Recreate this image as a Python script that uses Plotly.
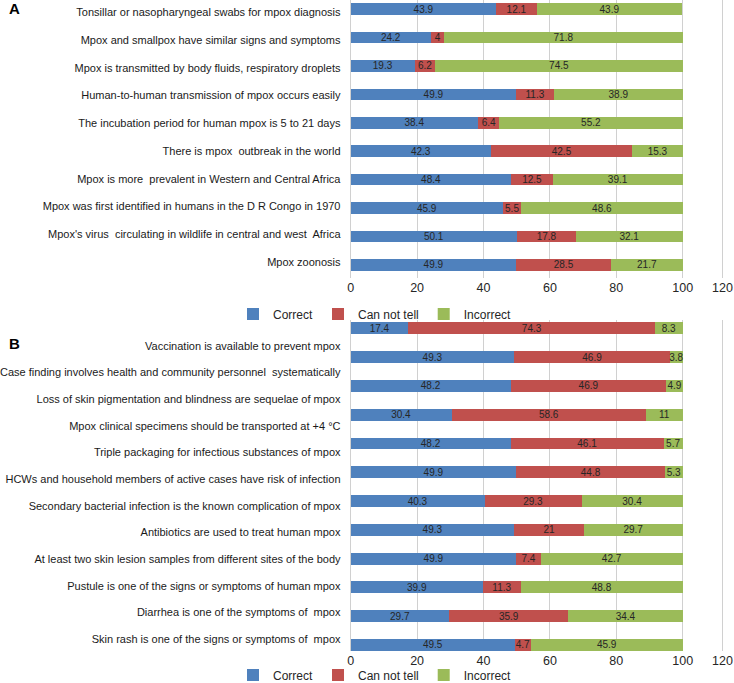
import plotly.graph_objects as go

# Panel A knowledge items (top to bottom)
items_a = [
    "Tonsillar or nasopharyngeal swabs for mpox diagnosis",
    "Mpox and smallpox have similar signs and symptoms",
    "Mpox is transmitted by body fluids, respiratory droplets",
    "Human-to-human transmission of mpox occurs easily",
    "The incubation period for human mpox is 5 to 21 days",
    "There is mpox  outbreak in the world",
    "Mpox is more  prevalent in Western and Central Africa",
    "Mpox was first identified in humans in the D R Congo in 1970",
    "Mpox's virus  circulating in wildlife in central and west  Africa",
    "Mpox zoonosis",
]
correct_a = [43.9, 24.2, 19.3, 49.9, 38.4, 42.3, 48.4, 45.9, 50.1, 49.9]
cannot_a = [12.1, 4, 6.2, 11.3, 6.4, 42.5, 12.5, 5.5, 17.8, 28.5]
incorrect_a = [43.9, 71.8, 74.5, 38.9, 55.2, 15.3, 39.1, 48.6, 32.1, 21.7]

# Panel B items (top to bottom)
items_b = [
    "Vaccination is available to prevent mpox",
    "Case finding involves health and community personnel  systematically",
    "Loss of skin pigmentation and blindness are sequelae of mpox",
    "Mpox clinical specimens should be transported at +4 °C",
    "Triple packaging for infectious substances of mpox",
    "HCWs and household members of active cases have risk of infection",
    "Secondary bacterial infection is the known complication of mpox",
    "Antibiotics are used to treat human mpox",
    "At least two skin lesion samples from different sites of the body",
    "Pustule is one of the signs or symptoms of human mpox",
    "Diarrhea is one of the symptoms of  mpox",
    "Skin rash is one of the signs or symptoms of  mpox",
]
correct_b = [17.4, 49.3, 48.2, 30.4, 48.2, 49.9, 40.3, 49.3, 49.9, 39.9, 29.7, 49.5]
cannot_b = [74.3, 46.9, 46.9, 58.6, 46.1, 44.8, 29.3, 21, 7.4, 11.3, 35.9, 4.7]
incorrect_b = [8.3, 3.8, 4.9, 11, 5.7, 5.3, 30.4, 29.7, 42.7, 48.8, 34.4, 45.9]

series_names = ["Correct", "Can not tell", "Incorrect"]
colors = ["#4F81BD", "#C0504D", "#9BBB59"]
x_tick_labels = ["0", "20", "40", "60", "80", "100", "120"]

LABEL_FONT = "Liberation Sans, Arial, sans-serif"
NUM_FONT = "Liberation Sans Narrow, Liberation Sans, Arial, sans-serif"

fig = go.Figure()

panels = [
    (items_a, [correct_a, cannot_a, incorrect_a], "x", "y", "legend"),
    (items_b, [correct_b, cannot_b, incorrect_b], "x2", "y2", "legend2"),
]
for items, series, xa, ya, lg in panels:
    pos = list(range(len(items)))
    for name, vals, col in zip(series_names, series, colors):
        fig.add_trace(go.Bar(
            y=pos, x=vals, name=name, orientation="h",
            marker=dict(color=col, line=dict(width=0)),
            width=0.41,
            text=vals, texttemplate="%{text}", textposition="inside",
            insidetextanchor="middle", constraintext="none", textangle=0,
            textfont=dict(family=NUM_FONT, size=10, color="#262626"),
            xaxis=xa, yaxis=ya, legend=lg,
            hoverinfo="skip",
        ))

# tick geometry: 100 sits at 683px, 0 at 350.7px, plot ends near 730px
x_right = 114.2
x_tickvals = [0, 20, 40, 60, 80, 100, 112]

# label rows in the source image are spaced a bit tighter than the bars
ticks_a = [0.116 + 0.975 * i for i in range(len(items_a))]
ticks_b = [0.604 + 0.927 * i for i in range(len(items_b))]

xaxis_common = dict(
    range=[0, x_right], tickvals=x_tickvals, ticktext=x_tick_labels,
    showgrid=True, gridcolor="#d0d0d0", gridwidth=1, zeroline=False,
    showline=False, ticks="", automargin=False, ticklabeloverflow="allow",
    tickfont=dict(family=NUM_FONT, size=12.5, color="#262626"),
    domain=[350.7 / 734, (350.7 + 3.32 * x_right) / 734],
)
yaxis_common = dict(
    showgrid=False, zeroline=False, showline=True, linecolor="#d0d0d0",
    ticks="", ticklabelstandoff=7, automargin=False,
    tickfont=dict(family=LABEL_FONT, size=11, color="#1a1a1a"),
)
legend_common = dict(
    orientation="h", x=375 / 734, xanchor="center", traceorder="normal",
    font=dict(family=NUM_FONT, size=12, color="#262626"),
    bgcolor="rgba(0,0,0,0)", itemwidth=30, tracegroupgap=0,
    yanchor="middle",
)

fig.update_layout(
    width=734, height=683,
    margin=dict(l=0, r=0, t=0, b=0, autoexpand=False),
    paper_bgcolor="white", plot_bgcolor="white",
    barmode="stack",
    xaxis=dict(**xaxis_common, anchor="y"),
    xaxis2=dict(**xaxis_common, anchor="y2"),
    yaxis=dict(**yaxis_common, anchor="x", range=[9.46, -0.32],
               tickvals=ticks_a, ticktext=items_a,
               domain=[1 - 278 / 683, 1.0]),
    yaxis2=dict(**yaxis_common, anchor="x2", range=[11.21, -0.29],
                tickvals=ticks_b, ticktext=items_b,
                domain=[1 - 651 / 683, 1 - 320 / 683]),
    legend=dict(**legend_common, y=1 - 314 / 683),
    legend2=dict(**legend_common, y=1 - 675 / 683),
    annotations=[
        dict(text="<b>A</b>", xref="paper", yref="paper", x=7 / 734, y=1 - 8 / 683,
             xanchor="left", yanchor="middle", showarrow=False,
             font=dict(family=LABEL_FONT, size=15, color="black")),
        dict(text="<b>B</b>", xref="paper", yref="paper", x=7 / 734, y=1 - 343 / 683,
             xanchor="left", yanchor="middle", showarrow=False,
             font=dict(family=LABEL_FONT, size=15, color="black")),
    ],
)

# page body has a default 8px margin; drop it so the figure fills the window
fig.write_html("out.html", config={"displayModeBar": False},
               post_script="document.body.style.margin='0px';")
